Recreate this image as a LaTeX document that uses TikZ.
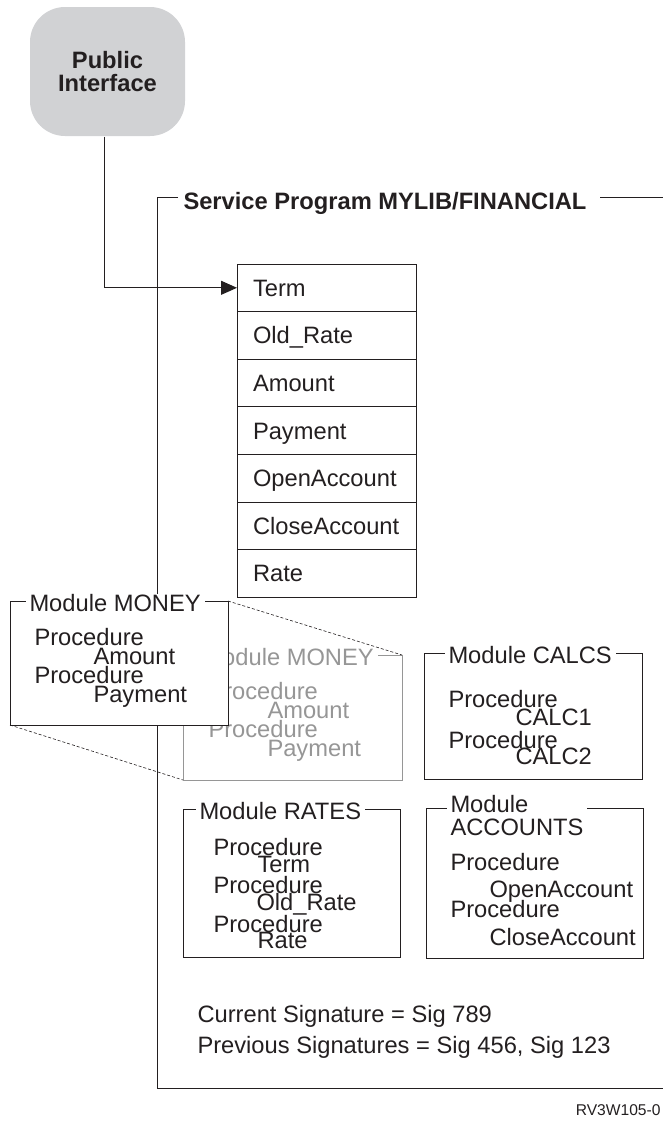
\documentclass[tikz,border=0pt]{standalone}
\usepackage{fontspec}
\setmainfont{Liberation Sans}
\usetikzlibrary{arrows.meta,positioning}
\definecolor{pubgray}{RGB}{209,210,212}
\definecolor{fadegray}{RGB}{150,150,150}
\definecolor{ink}{RGB}{35,31,32}
\tikzset{every picture/.style={line width=1pt}}
\tikzset{
  txt/.style={anchor=base west, inner sep=0pt},
  modtitle/.style={anchor=base west, inner xsep=4pt, inner ysep=0pt, fill=white},
  exprow/.style={draw, outer sep=0pt, inner xsep=16pt, text width=147pt,
    minimum height=47.6pt, text height=17pt, text depth=0pt, align=left},
  zoomline/.style={line width=0.6pt, dash pattern=on 3pt off 2pt}
}

\begin{document}
\begin{tikzpicture}[x=1pt, y=-1pt, ink, font=\fontsize{23.7}{23}\selectfont]
    \useasboundingbox (0,0) rectangle (663,1122);

    % public interface
    \node[fill=pubgray, rounded corners=35pt, minimum width=155pt, minimum height=129pt,
          align=center, font=\fontsize{23.7}{23}\selectfont\bfseries] (pub) at (107.5,71.5)
          {Public\\Interface};

    % service program frame
    \coordinate (frame-tl) at (157,197);
    \coordinate (frame-bl) at (157,1088);
    \node[txt, font=\fontsize{23.7}{23}\selectfont\bfseries] (svc) at (183,209)
          {Service Program MYLIB/FINANCIAL};
    \draw (178,197) -- (frame-tl) -- (frame-bl) -- (663,1088);
    \draw (600,197) -- (663,197);

    % exported procedures
    \node[exprow, anchor=north west] (term) at (237,264) {Term};
    \node[exprow, below=0pt of term] (oldrate) {Old\_Rate};
    \node[exprow, below=0pt of oldrate] (amount) {Amount};
    \node[exprow, below=0pt of amount] (payment) {Payment};
    \node[exprow, below=0pt of payment] (open) {OpenAccount};
    \node[exprow, below=0pt of open] (close) {CloseAccount};
    \node[exprow, below=0pt of close] (rate) {Rate};

    \draw[-{Triangle[length=16pt,width=14pt]}] ([xshift=-3.5pt]pub.south) |- (term.west);

    % module MONEY (faded copy)
    \begin{scope}[fadegray]
    \draw (183,655) rectangle (402,780);
    \coordinate (fade-ne) at (402,655);
    \coordinate (fade-sw) at (183,780);
    \node[modtitle] (fadetitle) at (198,665) {Module MONEY};
    \node[txt] (fadep1) at (208,699) {Procedure};
    \node[txt] (fadeamt) at (267,718) {Amount};
    \node[txt] (fadep2) at (208,737) {Procedure};
    \node[txt] (fadepay) at (267,756) {Payment};
    \end{scope}

    % module MONEY (enlarged)
    \coordinate (money-ne) at (228,601);
    \coordinate (money-sw) at (10,725);
    \draw[zoomline] (money-ne) -- (fade-ne);
    \draw[zoomline] (money-sw) -- (fade-sw);
    \draw[fill=white] (money-sw) rectangle (money-ne);
    \node[modtitle] (moneytitle) at (25,611) {Module MONEY};
    \node[txt] (moneyp1) at (34,645) {Procedure};
    \node[txt] (moneyamt) at (93,664) {Amount};
    \node[txt] (moneyp2) at (34,683) {Procedure};
    \node[txt] (moneypay) at (93,702) {Payment};

    % module CALCS
    \draw (424,653) rectangle (642,779);
    \node[modtitle] (calcstitle) at (444,663) {Module CALCS};
    \node[txt] (calcsp1) at (448,707) {Procedure};
    \node[txt] (calc1) at (515,725) {CALC1};
    \node[txt] (calcsp2) at (448,748) {Procedure};
    \node[txt] (calc2) at (515,764) {CALC2};

    % module RATES
    \draw (183,809) rectangle (400,957);
    \node[modtitle] (ratestitle) at (195,819) {Module RATES};
    \node[txt] (ratesp1) at (213,855) {Procedure};
    \node[txt] (ratesterm) at (257,872) {Term};
    \node[txt] (ratesp2) at (213,893) {Procedure};
    \node[txt] (ratesold) at (256,910) {Old\_Rate};
    \node[txt] (ratesp3) at (213,932) {Procedure};
    \node[txt] (ratesrate) at (257,948) {Rate};

    % module ACCOUNTS
    \draw (426,808) rectangle (643,958);
    \node[modtitle, align=left] (acctitle) at (446,835) {Module\\ACCOUNTS};
    \node[txt] (accp1) at (450,870) {Procedure};
    \node[txt] (accopen) at (489,897) {OpenAccount};
    \node[txt] (accp2) at (450,917) {Procedure};
    \node[txt] (accclose) at (489,945) {CloseAccount};

    % signatures
    \node[txt] (cursig) at (197,1022) {Current Signature = Sig 789};
    \node[txt] (prevsig) at (197,1053) {Previous Signatures = Sig 456, Sig 123};

    \node[anchor=base east, inner sep=0pt, font=\fontsize{15.6}{16}\selectfont] (figid)
          at (661,1115) {RV3W105-0};
\end{tikzpicture}
\end{document}
